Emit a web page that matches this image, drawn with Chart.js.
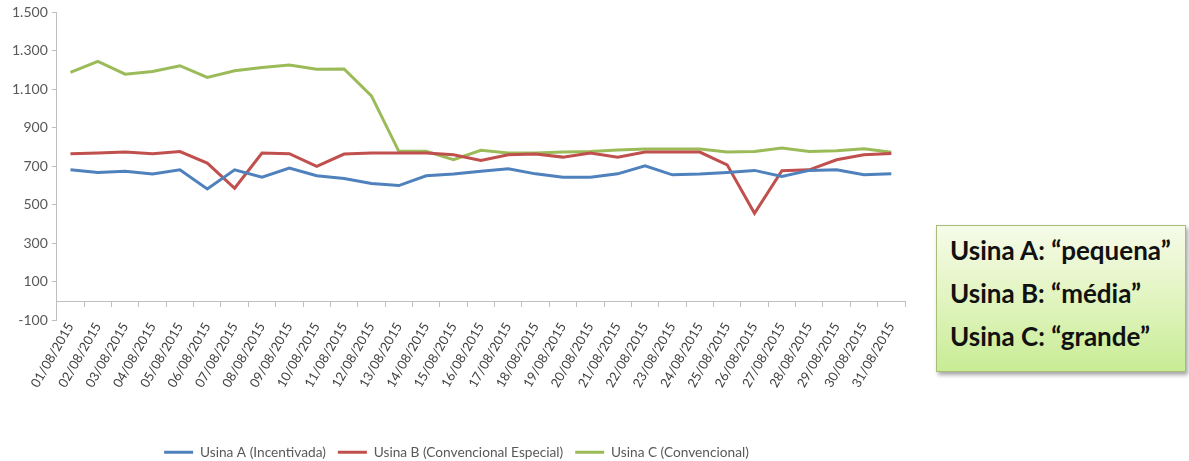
<!DOCTYPE html>
<html lang="pt-BR">
<head>
<meta charset="utf-8">
<title>Usinas A, B e C – agosto/2015</title>
<script src="https://cdn.jsdelivr.net/npm/chart.js@4/dist/chart.umd.min.js"></script>
<style>
  html, body { margin: 0; padding: 0; background: #ffffff; }
  body { width: 1189px; height: 461px; position: relative; overflow: hidden; }
  #wrap { position: absolute; left: 0; top: 0; width: 930px; height: 470px; }
  #nota {
    position: absolute; left: 936px; top: 225px; width: 250px; height: 147px;
    box-sizing: border-box;
    border: 1px solid #a7bd78;
    background: linear-gradient(to bottom, #f6fbe8 0%, #e4f5c4 45%, #c8ec95 100%);
    box-shadow: 2px 3px 4px rgba(0,0,0,0.35);
    font-family: Lato, "Open Sans", sans-serif; font-weight: 700;
    font-size: 26px; color: #111111;
    padding: 3px 0 0 13px; line-height: 43px; letter-spacing: 0;
    white-space: nowrap;
  }
</style>
</head>
<body>
<div id="wrap"><canvas id="grafico"></canvas></div>
<div id="nota">
  <div>Usina A: “pequena”</div>
  <div>Usina B: “média”</div>
  <div>Usina C: “grande”</div>
</div>
<script>
// Dias do mês de agosto de 2015
const dias = [
  '01/08/2015', '02/08/2015', '03/08/2015', '04/08/2015', '05/08/2015',
  '06/08/2015', '07/08/2015', '08/08/2015', '09/08/2015', '10/08/2015',
  '11/08/2015', '12/08/2015', '13/08/2015', '14/08/2015', '15/08/2015',
  '16/08/2015', '17/08/2015', '18/08/2015', '19/08/2015', '20/08/2015',
  '21/08/2015', '22/08/2015', '23/08/2015', '24/08/2015', '25/08/2015',
  '26/08/2015', '27/08/2015', '28/08/2015', '29/08/2015', '30/08/2015',
  '31/08/2015'
];

// Valores diários de cada usina
const usinaA = [682, 668, 674, 660, 682, 583, 682, 644, 691, 651, 637, 611, 600, 651, 660,
                674, 687, 661, 644, 644, 661, 703, 656, 660, 668, 679, 647, 679, 682, 656, 661];
const usinaB = [766, 769, 775, 766, 777, 717, 586, 769, 766, 700, 764, 769, 769, 769, 760,
                730, 760, 764, 748, 769, 748, 775, 774, 774, 708, 456, 677, 682, 734, 760, 767];
const usinaC = [1188, 1245, 1179, 1193, 1223, 1162, 1197, 1214, 1226, 1205, 1206, 1066, 778, 778, 735,
                783, 769, 770, 774, 777, 785, 790, 790, 790, 774, 777, 795, 777, 781, 792, 773];

// Nomes das séries
const nomes = ['Usina A (Incentivada)', 'Usina B (Convencional Especial)', 'Usina C (Convencional)'];

// Eixo vertical
const eixoMin = -100;
const eixoMax = 1500;
const eixoPasso = 200;

const cores = ['#4f81bd', '#c0504d', '#9bbb59'];
const fonte = "Lato, 'Open Sans', sans-serif";

function serie(nome, valores, cor) {
  return {
    label: nome,
    data: valores,
    borderColor: cor,
    backgroundColor: cor,
    borderWidth: 3,
    pointRadius: 0,
    pointHoverRadius: 0,
    tension: 0,
    pointStyle: 'line',
    fill: false
  };
}

new Chart(document.getElementById('grafico'), {
  type: 'line',
  data: {
    labels: dias,
    datasets: [
      serie(nomes[0], usinaA, cores[0]),
      serie(nomes[1], usinaB, cores[1]),
      serie(nomes[2], usinaC, cores[2])
    ]
  },
  options: {
    responsive: true,
    maintainAspectRatio: false,
    animation: false,
    layout: { padding: { top: 11, right: 25, bottom: 1, left: 8 } },
    plugins: {
      tooltip: { enabled: false },
      legend: {
        position: 'bottom',
        labels: {
          usePointStyle: true,
          pointStyleWidth: 29,
          padding: 12,
          color: '#595959',
          font: { family: fonte, size: 13.7 }
        }
      }
    },
    scales: {
      // eixo das datas, cruzando o eixo vertical no valor zero
      x: {
        position: { y: 0 },
        offset: true,
        grid: {
          offset: true,
          drawOnChartArea: false,
          drawTicks: true,
          tickLength: 5,
          color: '#bfbfbf'
        },
        border: { display: true, color: '#bfbfbf', width: 1 },
        ticks: {
          autoSkip: false,
          minRotation: 60,
          maxRotation: 60,
          padding: 14,
          color: '#404040',
          font: { family: fonte, size: 13 }
        }
      },
      // faixa reservada abaixo da área do gráfico para os rótulos inclinados
      faixa: {
        type: 'category',
        position: 'bottom',
        grid: { display: false },
        border: { display: false },
        ticks: { display: false },
        afterFit: (s) => { s.height = 113; }
      },
      y: {
        min: eixoMin,
        max: eixoMax,
        grid: {
          drawOnChartArea: false,
          drawTicks: true,
          tickLength: 5,
          color: '#bfbfbf'
        },
        border: { display: true, color: '#bfbfbf', width: 1 },
        ticks: {
          stepSize: eixoPasso,
          padding: 4,
          color: '#595959',
          font: { family: fonte, size: 14 },
          callback: (v) => v.toLocaleString('pt-BR')
        }
      }
    }
  }
});
</script>
</body>
</html>
